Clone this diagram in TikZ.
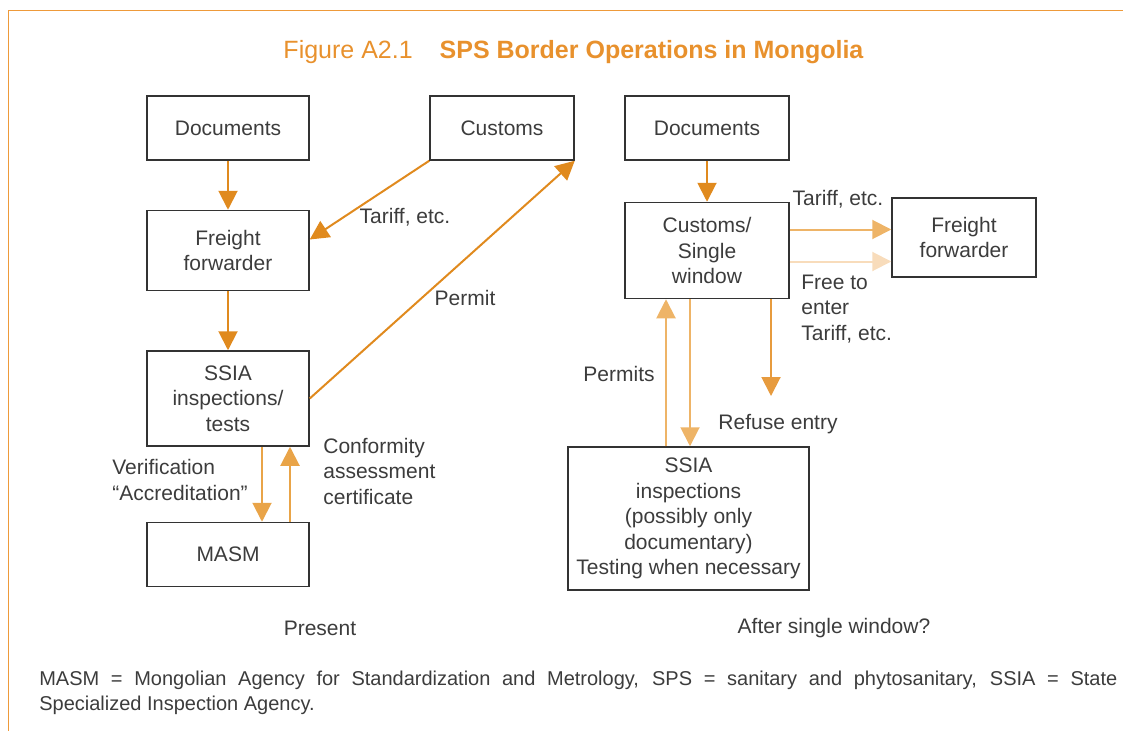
\documentclass[tikz,border=0pt]{standalone}
\usepackage{fontspec}
\setmainfont{Liberation Sans}
\usetikzlibrary{positioning}
\usetikzlibrary{arrows.meta}
\definecolor{textgray}{HTML}{3C3C3C}
\definecolor{boxgray}{HTML}{333333}
\definecolor{titleorange}{HTML}{E8912D}
\definecolor{framecol}{HTML}{EE9A3A}
\definecolor{darkarrow}{HTML}{E08A1E}
\definecolor{midarrow}{HTML}{E9A448}
\definecolor{refusecol}{HTML}{E79B3E}
\definecolor{lightarrow}{HTML}{EEB467}
\definecolor{palearrow}{HTML}{F8DCBB}

\begin{document}
\begin{tikzpicture}[
            x = 1pt, y = -1pt, % pixel grid
            > = {Triangle[length=19pt,width=19pt]}, % arrow head style
            line width = 2pt,
            every node/.style = {text = textgray, font = \fontsize{21}{25.5}\selectfont}
        ]

        \tikzstyle{box}=[
            draw = boxgray,
            line width = 1.5pt,
            align = center,
            inner sep = 0pt
        ]
        \tikzstyle{flow}=[->, darkarrow]

        \useasboundingbox (0,0) rectangle (1123,730);
        \draw[framecol, line width = 1.5pt] (8.5,731) -- (8.5,10.5) -- (1124,10.5);

        \node[font = \fontsize{25}{30}\selectfont, text = titleorange] (title) at (573.5,52)
            {Figure A2.1\hspace{27pt}\textbf{SPS Border Operations in Mongolia}};

	% present
        \node[box, minimum width = 162pt, minimum height = 64pt] (D1) at (228,128) {Documents};
        \node[box, minimum width = 162pt, minimum height = 80pt] (FL) [below = 49pt of D1] {Freight\\forwarder};
        \node[box, minimum width = 162pt, minimum height = 95pt] (SL) [below = 59pt of FL] {SSIA\\inspections/\\tests};
        \node[box, minimum width = 162pt, minimum height = 64pt] (MASM) [below = 75pt of SL] {MASM};
        \node[box, minimum width = 144pt, minimum height = 64pt] (C1) at (502,128) {Customs};

        \path[flow] (D1) edge (FL);
        \path[flow] (FL) edge (SL);
        \path[flow] (C1.south west) edge ([yshift=11pt]FL.east);
        \path[flow] (SL.east) edge (C1.south east);
        \path[flow, midarrow] ([xshift=34pt]SL.south) edge ([xshift=34pt]MASM.north);
        \path[flow, midarrow] ([xshift=62pt]MASM.north) edge ([xshift=62pt]SL.south);

        \node (tariff1) at (405,217) {Tariff, etc.};
        \node (permit) at (465,298) {Permit};
        \node[anchor = west, align = left] (verif) at (108,480) {Verification\\“Accreditation”};
        \node[anchor = west, align = left] (conf) at (319,471) {Conformity\\assessment\\certificate};
        \node (present) at (320,628) {Present};

	% after single window
        \node[box, minimum width = 164pt, minimum height = 64pt] (D2) at (707,128) {Documents};
        \node[box, minimum width = 164pt, minimum height = 96pt] (CSW) [below = 41pt of D2] {Customs/\\Single\\window};
        \node[box, minimum width = 144pt, minimum height = 79pt] (FR) at (964,237.5) {Freight\\forwarder};
        \node[box, minimum width = 241pt, minimum height = 143pt] (SR) at (688.5,518.5)
            {SSIA\\inspections\\(possibly only\\documentary)\\Testing when necessary};

        \coordinate (tf) at ([yshift=21pt]CSW.east);
        \coordinate (fe) at ([yshift=-11pt]CSW.east);
        \coordinate (rf) at ([xshift=64pt]CSW.south);
        \coordinate (refuse) at (771,396);
        \coordinate (pu) at ([xshift=-41pt]CSW.south);
        \coordinate (pd) at ([xshift=-17pt]CSW.south);

        \path[flow] (D2) edge (CSW);
        \path[flow, lightarrow] (tf) edge (tf -| FR.west);
        \path[flow, palearrow] (fe) edge (fe -| FR.west);
        \path[flow, refusecol] (rf) edge (refuse);
        \path[flow, lightarrow] (pu |- SR.north) edge (pu);
        \path[flow, lightarrow] (pd) edge (pd |- SR.north);

        \node (tariff2) at (838,199) {Tariff, etc.};
        \node[anchor = west, align = left] (free) at (797,309) {Free to\\enter\\Tariff, etc.};
        \node (refusetxt) at (778,424) {Refuse entry};
        \node (permits) at (619,374) {Permits};
        \node (after) at (834,628) {After single window?};

	% note
        \node[anchor = west, font = \fontsize{20}{24}\selectfont] (note1) at (35,680)
            {\makebox[1078pt][s]{MASM = Mongolian Agency for Standardization and Metrology, SPS = sanitary and phytosanitary, SSIA = State}};
        \node[anchor = west, font = \fontsize{20}{24}\selectfont] (note2) at (35,705) {Specialized Inspection Agency.};

  \end{tikzpicture}
\end{document}
